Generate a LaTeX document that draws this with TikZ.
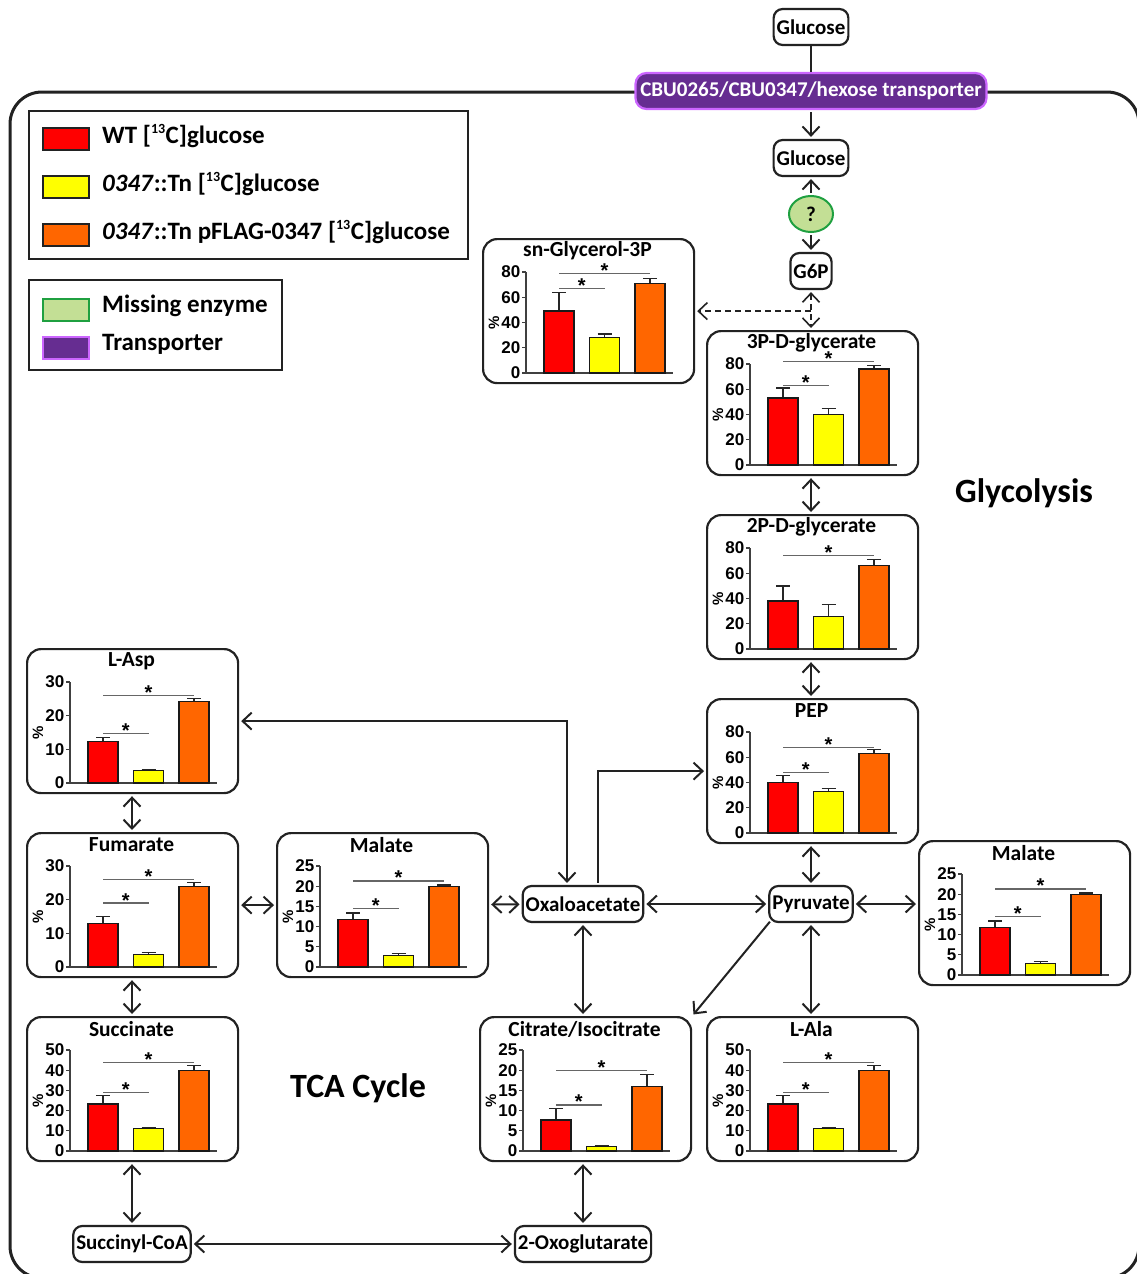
\documentclass[tikz,border=0pt]{standalone}
\usepackage{fontspec}
\setmainfont{Carlito}
\newfontfamily\axf{Liberation Sans}
\usetikzlibrary{arrows.meta,calc,shapes.geometric}
\definecolor{c1}{HTML}{FF0000}
\definecolor{c2}{HTML}{FFFF00}
\definecolor{c3}{HTML}{FF6600}
\definecolor{tpur}{HTML}{662D91}
\definecolor{tpurb}{HTML}{CC66FF}
\definecolor{mgreen}{HTML}{C3DF95}
\definecolor{mgreenb}{HTML}{1FA040}
\definecolor{dk}{HTML}{222222}
\tikzset{
 cbox/.style={draw=dk, line width=2.2pt, rounded corners=14pt, minimum width=211pt, minimum height=144pt, inner sep=0pt, anchor=north west},
 ctitle/.style={font=\fontsize{21.5}{23}\selectfont\bfseries, inner sep=0pt},
 axln/.style={draw=black!75, line width=1.3pt},
 ticklab/.style={font=\axf\fontsize{17}{18}\selectfont\bfseries, inner sep=1pt, anchor=east},
 pctlab/.style={font=\axf\fontsize{15}{16}\selectfont\bfseries, inner sep=0pt, rotate=90},
 errln/.style={draw=black!85, line width=1.3pt},
 barln/.style={draw=black!90, line width=1.3pt},
 sigln/.style={draw=black!60, line width=1.2pt},
 sigstar/.style={font=\axf\fontsize{20}{20}\selectfont\bfseries, inner sep=0pt, anchor=base},
 met/.style={draw=dk, line width=2.2pt, rounded corners=9pt, fill=white, font=\fontsize{21}{23}\selectfont\bfseries, minimum height=36pt, inner xsep=3pt, inner ysep=0pt},
 conn/.style={draw=dk, line width=2pt, >={Straight Barb[length=9pt,width=17pt]}, shorten >=2pt, shorten <=2pt},
 dashconn/.style={conn, line width=1.6pt, dash pattern=on 6pt off 4pt},
 legbox/.style={draw=dk, line width=2pt, anchor=north west, inner sep=0pt},
 swatch/.style={draw=dk, line width=2.5pt, minimum width=46pt, minimum height=22pt, inner sep=0pt},
 legtxt/.style={font=\fontsize{25}{27}\selectfont\bfseries, anchor=west, inner sep=0pt},
 bigtxt/.style={font=\fontsize{34}{36}\selectfont\bfseries, inner sep=0pt},
}
\newcommand{\supth}{\textsuperscript{\fontsize{14}{14}\selectfont 13}}
\newcommand{\chartbox}[8]{%
 \node[cbox] (#1) at (#2,#3) {};
 \begin{scope}[shift={(#2,#3)}]
  \node[ctitle] at (105.5,13) {#4};
  \pgfmathsetmacro\ym{#5}
  \draw[axln] (44,34) -- (44,135) -- (191,135);
  \foreach \t in {#6} {\draw[axln] (44,{135-\t/\ym*101}) -- (40,{135-\t/\ym*101}) node[ticklab] {\t};}
  \node[pctlab] at (12,85) {\%};
  \foreach \i/\v/\e in {#7} {
   \pgfmathsetmacro\xc{77+45.5*(\i-1)}
   \draw[errln] (\xc,{135-\v/\ym*101}) -- (\xc,{135-\e/\ym*101}) (\xc-7,{135-\e/\ym*101}) -- (\xc+7,{135-\e/\ym*101});
   \filldraw[barln, fill=c\i] (\xc-15,135) rectangle (\xc+15,{135-\v/\ym*101});
  }
  \foreach \j/\h in {#8} {
   \pgfmathsetmacro\xe{77+45.5*(\j-1)}
   \pgfmathsetmacro\yh{135-\h/\ym*101}
   \draw[sigln] (77,\yh) -- (\xe,\yh);
   \node[sigstar] at ({(77+\xe)/2},\yh+4) {*};
  }
 \end{scope}
}
\begin{document}
\begin{tikzpicture}[x=1pt,y=-1pt]
\useasboundingbox (0,0) rectangle (1137,1274);
\begin{scope}
 \clip (0,0) rectangle (1137,1274);
 \draw[line width=3pt, draw=dk, rounded corners=32pt] (10,92) rectangle (1139,1278);
\end{scope}

% legend
\node[legbox, minimum width=439pt, minimum height=148pt] (leg1) at (28,110) {};
\node[legbox, minimum width=253pt, minimum height=90pt] (leg2) at (28,279) {};
\node[swatch, fill=c1] (sw1) at (66,139) {};
\node[swatch, fill=c2] (sw2) at (66,187) {};
\node[swatch, fill=c3] (sw3) at (66,235) {};
\node[swatch, fill=mgreen, draw=mgreenb] (sw4) at (66,310) {};
\node[swatch, fill=tpur, draw=tpurb] (sw5) at (66,348) {};
\node[legtxt] (lt1) at (102,136) {WT [\supth C]glucose};
\node[legtxt] (lt2) at (102,184) {\textit{0347}::Tn [\supth C]glucose};
\node[legtxt] (lt3) at (102,232) {\textit{0347}::Tn pFLAG-0347 [\supth C]glucose};
\node[legtxt] (lt4) at (102,306) {Missing enzyme};
\node[legtxt] (lt5) at (102,344) {Transporter};

% metabolite nodes
\node[met] (glu1) at (811,27) {Glucose};
\node[met, fill=tpur, draw=tpurb, text=white, minimum width=351pt, rounded corners=11pt] (tr) at (811,91) {CBU0265/CBU0347/hexose transporter};
\node[met] (glu2) at (811,158) {Glucose};
\node[ellipse, draw=mgreenb, fill=mgreen, line width=2pt, minimum width=44pt, minimum height=36pt, inner sep=0pt, font=\fontsize{21}{23}\selectfont\bfseries] (enz) at (811,214) {?};
\node[met] (g6p) at (811,271) {G6P};
\node[met] (oxa) at (583,904) {Oxaloacetate};
\node[met] (pyr) at (811,904) {Pyruvate};
\node[met] (scoa) at (132,1244) {Succinyl-CoA};
\node[met] (oxg) at (583,1244) {2-Oxoglutarate};

\node[bigtxt] (gly) at (1024,493) {Glycolysis};
\node[bigtxt] (tca) at (358,1088) {TCA Cycle};

% charts
\chartbox{sng}{482}{238}{sn-Glycerol-3P}{80}{0,20,40,60,80}{1/49/64,2/28/31,3/71/75}{2/67,3/79}
\chartbox{p3}{706}{330}{3P-D-glycerate}{80}{0,20,40,60,80}{1/53/61,2/40/45,3/76/79}{2/63,3/82}
\chartbox{p2}{706}{514}{2P-D-glycerate}{80}{0,20,40,60,80}{1/38/50,2/26/35,3/66/71}{3/74}
\chartbox{pep}{706}{698}{PEP}{80}{0,20,40,60,80}{1/40/45.5,2/33/35.5,3/63/66}{2/48,3/68}
\chartbox{lasp}{26}{648}{L-Asp}{30}{0,10,20,30}{1/12.3/13.6,2/3.8/4.1,3/24.3/25}{2/14.6,3/26}
\chartbox{fum}{26}{832}{Fumarate}{30}{0,10,20,30}{1/13/15,2/3.8/4.4,3/23.9/25}{2/19,3/26}
\chartbox{malL}{276}{832}{Malate}{25}{0,5,10,15,20,25}{1/11.7/13.4,2/2.8/3.4,3/19.9/20.3}{2/14.4,3/21.3}
\chartbox{malR}{918}{840}{Malate}{25}{0,5,10,15,20,25}{1/11.7/13.4,2/2.8/3.4,3/19.9/20.3}{2/14.4,3/21.3}
\chartbox{suc}{26}{1016}{Succinate}{50}{0,10,20,30,40,50}{1/23.3/27.5,2/11/11.4,3/40/42.5}{2/29,3/44}
\chartbox{cit}{479}{1016}{Citrate/Isocitrate}{25}{0,5,10,15,20,25}{1/7.7/10.6,2/1.2/1.4,3/15.9/19}{2/11.4,3/20}
\chartbox{lala}{706}{1016}{L-Ala}{50}{0,10,20,30,40,50}{1/23.3/27.5,2/11/11.4,3/40/42.5}{2/29,3/44}

% connectors
\draw[conn, shorten <=0pt, shorten >=0pt] (glu1.south) -- (tr.north);
\draw[conn,->] (tr) -- (glu2);
\draw[conn,->] (enz) -- (glu2);
\draw[conn,->] (enz) -- (g6p);
\draw[dashconn,<->] (g6p.south) -- (g6p.south |- p3.north);
\draw[dashconn,->, shorten <=0pt] (g6p.south |- sng.east) -- (sng.east);
\draw[conn,<->] (p3.south -| g6p) -- (p2.north -| g6p);
\draw[conn,<->] (p2.south -| g6p) -- (pep.north -| g6p);
\draw[conn,<->] (pep.south -| pyr) -- (pyr.north);
\draw[conn,<->] (oxa) -- (pyr);
\draw[conn,<->] (pyr.east) -- (pyr.east -| malR.west);
\draw[conn,<->] (pyr.south) -- (pyr.south |- lala.north);
\draw[conn,->] ([shift={(3,-3)}]pyr.south west) -- (cit.north east);
\draw[conn,<->] (oxa.south) -- (oxa.south |- cit.north);
\draw[conn,<->] (oxg.north |- cit.south) -- (oxg.north);
\draw[conn,<->] (scoa) -- (oxg);
\draw[conn,<->] (scoa.north |- suc.south) -- (scoa.north);
\draw[conn,<->] (fum.north -| scoa) -- (lasp.south -| scoa);
\draw[conn,<->] (suc.north -| scoa) -- (fum.south -| scoa);
\draw[conn,<->] (fum) -- (malL);
\draw[conn,<->] (malL) -- (oxa);
\draw[conn,<->] (lasp.east) -| ([xshift=-16pt]oxa.north);
\draw[conn,->] ([xshift=15pt]oxa.north) |- (pep.west);
\end{tikzpicture}
\end{document}
